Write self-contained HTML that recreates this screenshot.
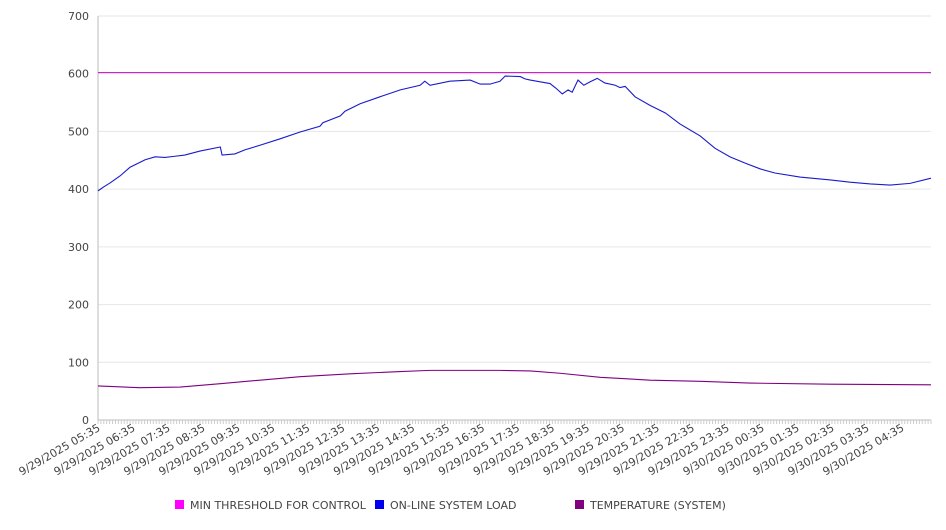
<!DOCTYPE html>
<html><head><meta charset="utf-8"><style>
body{margin:0;background:#fff;font-family:"DejaVu Sans","Liberation Sans",sans-serif;}
svg text{fill:#444;font-size:11px;}
</style></head><body>
<svg width="946" height="526" id="c"></svg>
<script>
const loadMinutes=[0,10,21,38,55,81,98,115,132,149,175,210,213,235,252,278,312,347,381,386,416,424,450,484,519,553,561,570,604,639,656,673,690,699,725,733,742,759,776,786,797,807,814,824,834,845,857,870,888,896,905,922,948,974,999,1034,1059,1085,1111,1137,1162,1205,1257,1291,1326,1360,1394,1430];
const loadValues=[397,404,411,423,438,451,456,455,457,459,466,473,459,461,468,476,487,499,509,515,527,535,548,560,572,580,587,580,587,589,582,582,587,596,595,591,589,586,583,575,565,572,568,589,580,586,592,584,580,576,578,560,545,532,513,492,471,456,445,435,428,421,416,412,409,407,410,419];
const tempMinutes=[0,72,141,210,278,347,433,519,570,690,742,793,862,948,1034,1119,1257,1430];
const tempValues=[59,56,57,63,69,75,80,84,86,86,85,81,74,69,67,64,62,61];
const threshold=[602];
const yTicks=[0,100,200,300,400,500,600,700];
const xLabels=["9/29/2025 05:35","9/29/2025 06:35","9/29/2025 07:35","9/29/2025 08:35","9/29/2025 09:35","9/29/2025 10:35","9/29/2025 11:35","9/29/2025 12:35","9/29/2025 13:35","9/29/2025 14:35","9/29/2025 15:35","9/29/2025 16:35","9/29/2025 17:35","9/29/2025 18:35","9/29/2025 19:35","9/29/2025 20:35","9/29/2025 21:35","9/29/2025 22:35","9/29/2025 23:35","9/30/2025 00:35","9/30/2025 01:35","9/30/2025 02:35","9/30/2025 03:35","9/30/2025 04:35"];

const svg=document.getElementById('c');const NS='http://www.w3.org/2000/svg';
const L=98,R=931,T=16,B=420;
const x=m=>L+m*(R-L)/1430;
const y=v=>B-v*(B-T)/700;
function mk(t,a,p){const e=document.createElementNS(NS,t);for(const k in a)e.setAttribute(k,a[k]);(p||svg).appendChild(e);return e;}
yTicks.forEach(v=>{
  const g=mk('line',{x1:L,x2:R,y1:y(v),y2:y(v),stroke:v===0?'#bbb':'#e6e6e6'});
  
  
  const t=mk('text',{x:L-9,y:y(v)+4,'text-anchor':'end'});t.textContent=v;
  
  
});
const ax=mk('line',{x1:L,x2:L,y1:T,y2:B,stroke:'#bbb'});


for(let m=0;m<=1430;m+=5){const tk=mk('line',{x1:x(m),x2:x(m),y1:B,y2:B+4,stroke:'#ccc'});}
xLabels.forEach((s,i)=>{const px=x(i*60)+3;
  const t=mk('text',{x:px,y:B+10,'text-anchor':'end',transform:`rotate(-30 ${px} ${B+10})`,'font-size':'11.5'});t.textContent=s;
  
  
});
const th=mk('line',{x1:L,x2:R,y1:y(threshold[0]),y2:y(threshold[0]),stroke:'#cc22cc','stroke-width':1.2});


const lp=mk('polyline',{fill:'none',stroke:'#1a1acc','stroke-width':1.1,points:loadMinutes.map((m,i)=>x(m)+','+y(loadValues[i])).join(' ')});


const tp=mk('polyline',{fill:'none',stroke:'#800080','stroke-width':1.1,points:tempMinutes.map((m,i)=>x(m)+','+y(tempValues[i])).join(' ')});


const leg=[["#ff00ff","MIN THRESHOLD FOR CONTROL",175],["#0000ee","ON-LINE SYSTEM LOAD",375],["#800080","TEMPERATURE (SYSTEM)",575]];
leg.forEach(d=>{const g=mk('g',{});
  
  
  mk('rect',{x:d[2],y:500,width:9,height:9,fill:d[0]},g);
  const t=mk('text',{x:d[2]+15,y:509},g);t.textContent=d[1];});
</script>
</body></html>
